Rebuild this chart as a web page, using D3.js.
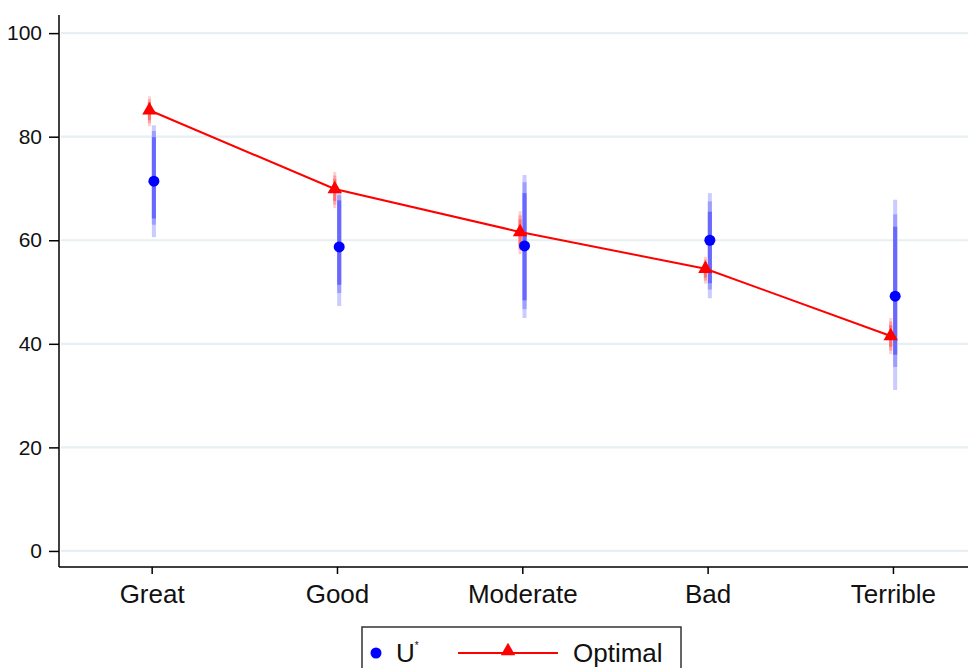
<!DOCTYPE html>
<html>
<head>
<meta charset="utf-8">
<script src="https://cdn.jsdelivr.net/npm/d3@7"></script>
<style>
  body { margin: 0; background: #fff; }
  svg { display: block; font-family: "Liberation Sans", Arial, sans-serif; }
</style>
</head>
<body>
<svg id="chart" width="968" height="668"></svg>
<script>
// categories and estimates
const categories = ["Great", "Good", "Moderate", "Bad", "Terrible"];
const yTicks = [0, 20, 40, 60, 80, 100];

// U* estimates with 99 / 95 / 90 intervals
const uStar = [71.4, 58.7, 58.9, 60.0, 49.2];
const uLo99 = [60.6, 47.3, 45.0, 48.8, 31.1];
const uHi99 = [82.2, 69.3, 72.6, 69.1, 67.8];
const uLo95 = [63.0, 49.8, 46.7, 50.5, 35.5];
const uHi95 = [81.1, 68.7, 71.2, 67.5, 65.0];
const uLo90 = [64.2, 51.4, 48.4, 51.7, 37.9];
const uHi90 = [79.9, 67.7, 69.1, 65.5, 62.6];

// optimal values with intervals
const optimal = [85.1, 69.9, 61.6, 54.5, 41.5];
const oLo99 = [82.0, 66.2, 57.3, 51.6, 38.0];
const oHi99 = [87.8, 73.2, 65.6, 56.8, 45.0];
const oLo95 = [82.6, 66.9, 58.2, 52.2, 38.7];
const oHi95 = [87.2, 72.5, 64.8, 56.3, 44.3];
const oLo90 = [83.2, 67.6, 59.0, 52.8, 39.4];
const oHi90 = [86.7, 71.8, 64.0, 55.8, 43.6];

const svg = d3.select("#chart");
const plotLeft = 59, plotBottom = 567, plotTop = 15, plotRight = 968;

const x = d3.scaleLinear().domain([0.5, 5.405]).range([plotLeft, plotRight]);
const y = d3.scaleLinear().domain([-3.1, 103.5]).range([plotBottom, plotTop]);

const shift = 0.012; // points drawn a bit apart so both are visible

// grid lines
svg.append("g")
  .selectAll("line")
  .data(yTicks)
  .join("line")
  .attr("x1", plotLeft + 2).attr("x2", plotRight)
  .attr("y1", d => y(d)).attr("y2", d => y(d))
  .attr("stroke", "#e6eff1")
  .attr("stroke-width", 2.2);

// y axis
const yAxis = svg.append("g")
  .attr("transform", `translate(${plotLeft},0)`)
  .call(d3.axisLeft(y).tickValues(yTicks).tickSize(10).tickPadding(7));
yAxis.select(".domain").attr("d", `M0,${plotTop}V${plotBottom}`).attr("stroke", "#000").attr("stroke-width", 1.5);
yAxis.selectAll(".tick line").attr("stroke", "#000").attr("stroke-width", 1.5);
yAxis.selectAll(".tick text").attr("font-size", 21).attr("fill", "#111")
  .attr("font-family", "Liberation Sans, Arial, sans-serif");

// x axis
const xAxis = svg.append("g")
  .attr("transform", `translate(0,${plotBottom})`)
  .call(d3.axisBottom(x).tickValues(d3.range(1, 6)).tickFormat(i => categories[i - 1])
    .tickSize(7).tickPadding(11));
xAxis.select(".domain").attr("d", `M${plotLeft},0H${plotRight}`).attr("stroke", "#000").attr("stroke-width", 1.5);
xAxis.selectAll(".tick line").attr("stroke", "#000").attr("stroke-width", 1.5);
xAxis.selectAll(".tick text").attr("font-size", 26).attr("fill", "#111")
  .attr("font-family", "Liberation Sans, Arial, sans-serif");

function bars(lo, hi, dx, color, width) {
  svg.append("g")
    .selectAll("line")
    .data(categories)
    .join("line")
    .attr("x1", (d, i) => x(i + 1 + dx)).attr("x2", (d, i) => x(i + 1 + dx))
    .attr("y1", (d, i) => y(lo[i])).attr("y2", (d, i) => y(hi[i]))
    .attr("stroke", color)
    .attr("stroke-width", width);
}

// U* intervals
bars(uLo99, uHi99, shift, "#cbcbff", 4);
bars(uLo95, uHi95, shift, "#9e9eff", 4);
bars(uLo90, uHi90, shift, "#6868ff", 4);

// optimal intervals
bars(oLo99, oHi99, -shift, "#ffcfcf", 3);
bars(oLo95, oHi95, -shift, "#ff9f9f", 3);
bars(oLo90, oHi90, -shift, "#ff7070", 3);

// U* points
svg.append("g")
  .selectAll("circle")
  .data(uStar)
  .join("circle")
  .attr("cx", (d, i) => x(i + 1 + shift))
  .attr("cy", d => y(d))
  .attr("r", 5.5)
  .attr("fill", "#0000ff");

// optimal line and triangles
const line = d3.line()
  .x((d, i) => x(i + 1 - shift))
  .y(d => y(d));
svg.append("path")
  .datum(optimal)
  .attr("d", line)
  .attr("fill", "none")
  .attr("stroke", "#ff0000")
  .attr("stroke-width", 2);

const tri = d3.symbol().type(d3.symbolTriangle).size(90);
svg.append("g")
  .selectAll("path")
  .data(optimal)
  .join("path")
  .attr("d", tri)
  .attr("transform", (d, i) => `translate(${x(i + 1 - shift)},${y(d)})`)
  .attr("fill", "#ff0000");

// legend
const lg = svg.append("g").attr("transform", "translate(362,627)");
lg.append("rect")
  .attr("x", 0).attr("y", 0)
  .attr("width", 319).attr("height", 70)
  .attr("fill", "#fff")
  .attr("stroke", "#333")
  .attr("stroke-width", 1.5);
lg.append("circle").attr("cx", 14).attr("cy", 26).attr("r", 5.5).attr("fill", "#0000ff");
const ut = lg.append("text").attr("x", 34).attr("y", 35)
  .attr("font-size", 26).attr("fill", "#111");
ut.append("tspan").text("U");
ut.append("tspan").attr("font-size", 10).attr("dy", -13).text("*");
lg.append("line").attr("x1", 96).attr("x2", 196).attr("y1", 26).attr("y2", 26)
  .attr("stroke", "#ff0000").attr("stroke-width", 2);
lg.append("path").attr("d", tri).attr("transform", "translate(146,24)").attr("fill", "#ff0000");
lg.append("text").attr("x", 211).attr("y", 35)
  .attr("font-size", 26).attr("fill", "#111").text("Optimal");
</script>
</body>
</html>
